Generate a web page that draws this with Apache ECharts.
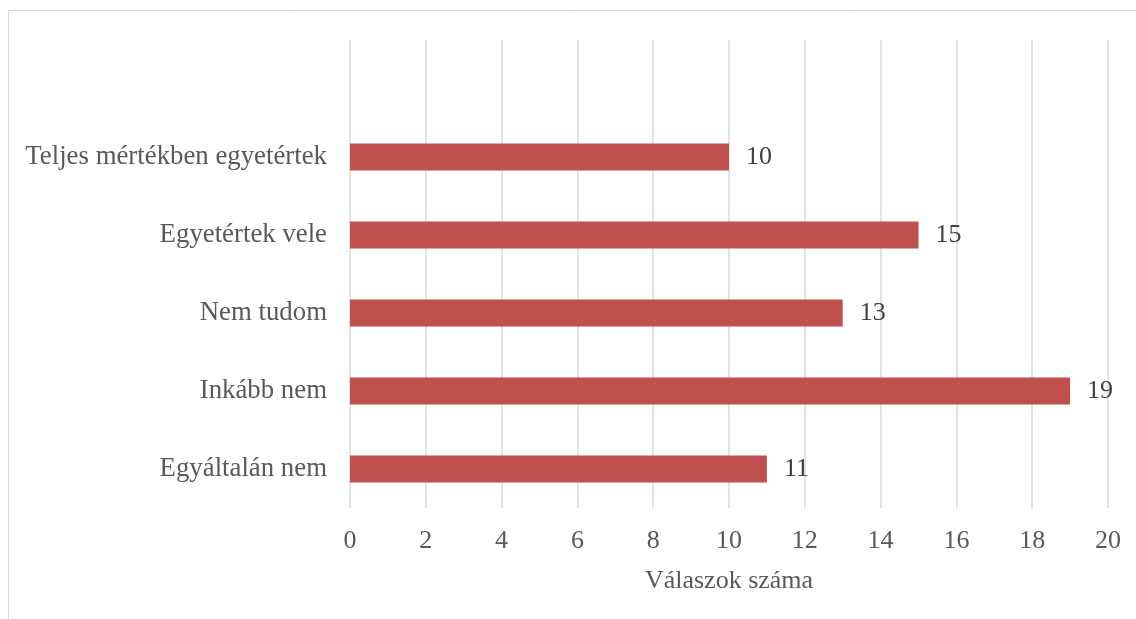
<!DOCTYPE html>
<html>
<head>
<meta charset="utf-8">
<style>
  html, body { margin: 0; padding: 0; background: #ffffff; }
  #chart { width: 1136px; height: 619px; }
</style>
<script src="https://cdn.jsdelivr.net/npm/echarts@6/dist/echarts.min.js"></script>
</head>
<body>
<div id="chart"></div>
<script>
// Válaszok megoszlása (bottom to top on the category axis)
const categories = ['Egyáltalán nem', 'Inkább nem', 'Nem tudom', 'Egyetértek vele', 'Teljes mértékben egyetértek'];
const answerCounts = [11, 19, 13, 15, 10];
const axisTitle = 'Válaszok száma';

const serif = '"Liberation Serif", "Times New Roman", serif';
const chart = echarts.init(document.getElementById('chart'));

chart.setOption({
  backgroundColor: '#ffffff',
  animation: false,
  graphic: [{
    type: 'rect',
    shape: { x: 8.5, y: 10.5, width: 1200, height: 700 },
    style: { fill: 'none', stroke: '#d9d9d9', lineWidth: 1 },
    silent: true
  }],
  grid: { left: 350, right: 28, top: 40, bottom: 111 },
  xAxis: {
    type: 'value',
    min: 0,
    max: 20,
    interval: 2,
    name: axisTitle,
    nameLocation: 'middle',
    nameGap: 60,
    nameTextStyle: { fontFamily: serif, fontSize: 26, color: '#595959' },
    axisLine: { show: false },
    axisTick: { show: false },
    axisLabel: { fontFamily: serif, fontSize: 26, color: '#595959', margin: 20 },
    splitLine: { show: true, lineStyle: { color: '#d9d9d9', width: 1.5 } }
  },
  yAxis: {
    type: 'category',
    data: categories,
    max: categories.length,
    axisLine: { show: false },
    axisTick: { show: false },
    axisLabel: {
      fontFamily: serif, fontSize: 26.8, color: '#595959', margin: 23,
      formatter: v => (v == null || v === 'undefined') ? '' : v
    },
    splitLine: { show: false }
  },
  series: [{
    type: 'bar',
    data: answerCounts,
    barWidth: 27,
    itemStyle: { color: '#C0504D' },
    label: {
      show: true,
      position: 'right',
      distance: 17,
      fontFamily: serif,
      fontSize: 26,
      color: '#404040'
    }
  }]
});
</script>
</body>
</html>
